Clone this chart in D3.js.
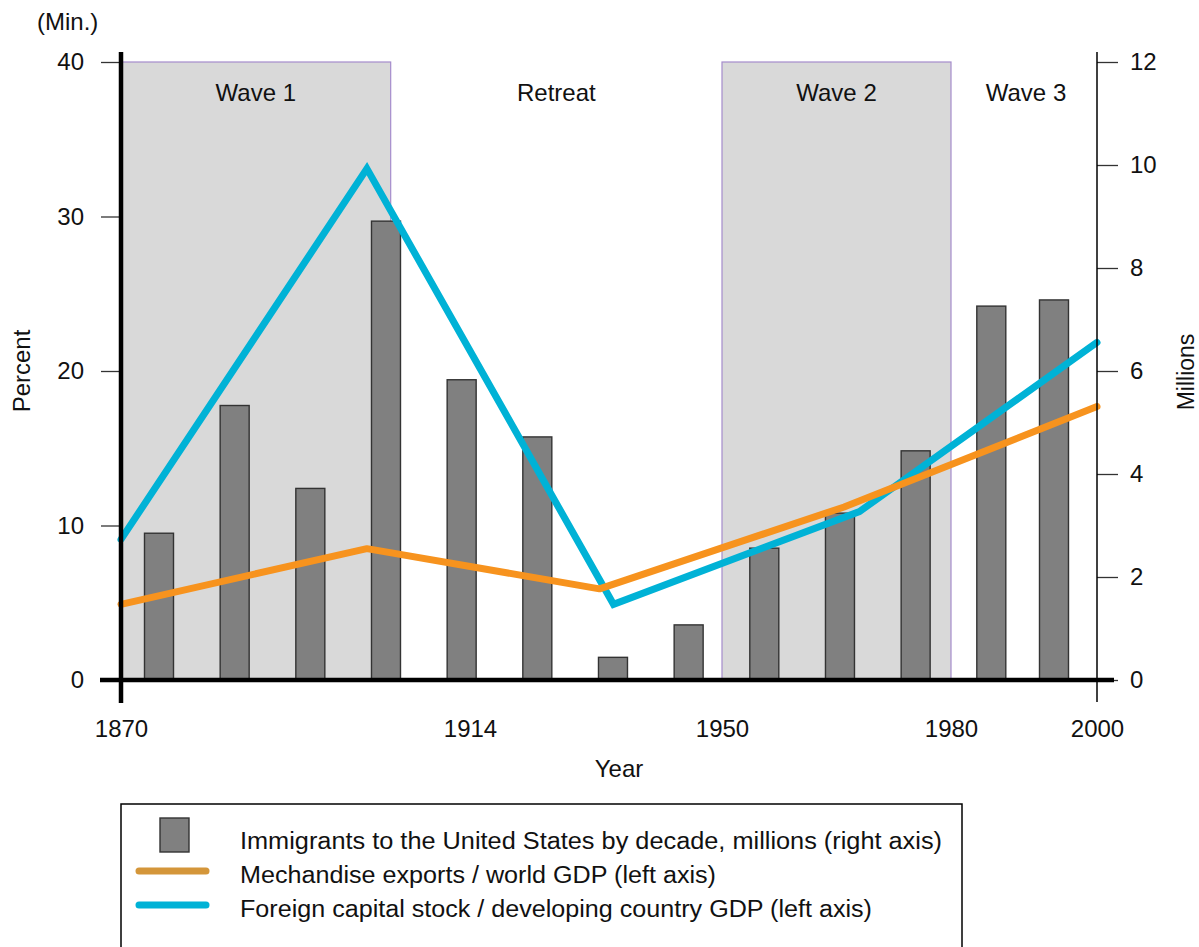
<!DOCTYPE html>
<html>
<head>
<meta charset="utf-8">
<script src="https://cdn.jsdelivr.net/npm/d3@7"></script>
<style>
  body { margin: 0; background: #fff; }
  svg { display: block; font-family: "Liberation Sans", Arial, sans-serif; }
</style>
</head>
<body>
<svg id="chart" width="1199" height="947"></svg>
<script>
// ---- data ----
// immigrants to the US by decade (millions, right axis), 1870s .. 1990s
var decades = ["1870s","1880s","1890s","1900s","1910s","1920s","1930s","1940s","1950s","1960s","1970s","1980s","1990s"];
var immigrants = [2.85, 5.33, 3.72, 8.91, 5.83, 4.72, 0.44, 1.07, 2.56, 3.24, 4.45, 7.26, 7.38];

// left axis series (percent)
var exportYears = [1870, 1901, 1932.5, 1966, 2000];
var exportsGdp = [4.9, 8.5, 5.9, 11.2, 17.7];
var capitalYears = [1870, 1901, 1934.5, 1968, 2000];
var capitalGdp = [9.1, 33.1, 4.9, 10.9, 21.85];

var yearTicks = [1870, 1914, 1950, 1980, 2000];
var leftTicks = [0, 10, 20, 30, 40];
var rightTicks = [0, 2, 4, 6, 8, 10, 12];

var periods = [
  {name: "Wave 1", from: 1870, to: 1904, shaded: true},
  {name: "Retreat", from: 1904, to: 1950, shaded: false},
  {name: "Wave 2", from: 1950, to: 1980, shaded: true},
  {name: "Wave 3", from: 1980, to: 2000, shaded: false}
];

var legendItems = [
  {type: "bar", label: "Immigrants to the United States by decade, millions (right axis)", len: 702},
  {type: "line", color: "#d4963a", label: "Mechandise exports / world GDP (left axis)", len: 476},
  {type: "line", color: "#00b2d6", label: "Foreign capital stock / developing country GDP (left axis)", len: 632}
];

var FONT = "Liberation Sans, Arial, sans-serif";

// ---- scales ----
var svg = d3.select("#chart");
var x = d3.scaleLinear().domain(yearTicks).range([121, 470, 722, 951, 1097]);
var yL = d3.scaleLinear().domain([0, 40]).range([680, 62]);
var yR = d3.scaleLinear().domain([0, 12]).range([680, 62]);
// bars sit on an even decade grid, last one squeezed in
var xBar = d3.scaleLinear().domain([0, 11, 12]).range([159, 991.3, 1054]);
var barW = 29;

// ---- shaded periods ----
svg.selectAll("rect.period")
  .data(periods.filter(function(d) { return d.shaded; }))
  .enter().append("rect")
  .attr("class", "period")
  .attr("x", function(d) { return x(d.from); })
  .attr("y", yL(40))
  .attr("width", function(d) { return x(d.to) - x(d.from); })
  .attr("height", yL(0) - yL(40))
  .attr("fill", "#d9d9d9")
  .attr("stroke", "#a58ccc")
  .attr("stroke-width", 1.2);

svg.selectAll("text.period")
  .data(periods)
  .enter().append("text")
  .attr("x", function(d) { return d.name == "Wave 3" ? 1026 : (x(d.from) + x(d.to)) / 2; })
  .attr("y", 101)
  .attr("text-anchor", "middle")
  .attr("font-size", 24)
  .attr("fill", "#111")
  .text(function(d) { return d.name; });

// ---- bars ----
svg.selectAll("rect.bar")
  .data(immigrants)
  .enter().append("rect")
  .attr("class", "bar")
  .attr("x", function(d, i) { return xBar(i) - barW / 2; })
  .attr("y", function(d) { return yR(d); })
  .attr("width", barW)
  .attr("height", function(d) { return yR(0) - yR(d); })
  .attr("fill", "#808080")
  .attr("stroke", "#333")
  .attr("stroke-width", 1.4);

// ---- lines ----
var line = d3.line()
  .x(function(d) { return x(d[0]); })
  .y(function(d) { return yL(d[1]); });

svg.append("path")
  .datum(d3.zip(capitalYears, capitalGdp))
  .attr("d", line)
  .attr("fill", "none")
  .attr("stroke", "#00b2d6")
  .attr("stroke-width", 7)
  .attr("stroke-linejoin", "miter")
  .attr("stroke-linecap", "round");

svg.append("path")
  .datum(d3.zip(exportYears, exportsGdp))
  .attr("d", line)
  .attr("fill", "none")
  .attr("stroke", "#f7931e")
  .attr("stroke-width", 7)
  .attr("stroke-linejoin", "round")
  .attr("stroke-linecap", "round");

// ---- axes ----
var leftAxis = svg.append("g")
  .attr("transform", "translate(121,0)")
  .call(d3.axisLeft(yL).tickValues(leftTicks).tickSize(20).tickPadding(17));
leftAxis.select(".domain").remove();
leftAxis.selectAll("line").attr("stroke", "#333").attr("stroke-width", 1.3);
leftAxis.selectAll("text").attr("font-size", 24).attr("fill", "#111").attr("font-family", FONT);

var rightAxis = svg.append("g")
  .attr("transform", "translate(1097,0)")
  .call(d3.axisRight(yR).tickValues(rightTicks).tickSize(21).tickPadding(12));
rightAxis.select(".domain").remove();
rightAxis.selectAll("line").attr("stroke", "#333").attr("stroke-width", 1.3);
rightAxis.selectAll("text").attr("font-size", 24).attr("fill", "#111").attr("font-family", FONT);

// thin right axis line
svg.append("line")
  .attr("x1", 1097).attr("x2", 1097)
  .attr("y1", 52).attr("y2", 702)
  .attr("stroke", "#000").attr("stroke-width", 1.5);

// thick left and bottom axis lines
svg.append("line")
  .attr("x1", 121).attr("x2", 121)
  .attr("y1", 52).attr("y2", 703)
  .attr("stroke", "#000").attr("stroke-width", 4.5);
svg.append("line")
  .attr("x1", 100).attr("x2", 1114)
  .attr("y1", 680).attr("y2", 680)
  .attr("stroke", "#000").attr("stroke-width", 4.5);

var bottomAxis = svg.append("g")
  .attr("transform", "translate(0,680)")
  .call(d3.axisBottom(x).tickValues(yearTicks).tickFormat(d3.format("d")).tickSize(0).tickPadding(40));
bottomAxis.select(".domain").remove();
bottomAxis.selectAll("text").attr("font-size", 24).attr("fill", "#111").attr("font-family", FONT);

// ---- axis titles ----
svg.append("text").attr("x", 37).attr("y", 30).attr("font-size", 24).attr("fill", "#111").text("(Min.)");
svg.append("text").attr("x", 619).attr("y", 777).attr("text-anchor", "middle")
  .attr("font-size", 24).attr("fill", "#111").text("Year");
svg.append("text")
  .attr("transform", "translate(30,371) rotate(-90)")
  .attr("text-anchor", "middle").attr("font-size", 24).attr("fill", "#111").text("Percent");
svg.append("text")
  .attr("transform", "translate(1194,372) rotate(-90)")
  .attr("text-anchor", "middle").attr("font-size", 23).attr("fill", "#111").text("Millions");

// ---- legend ----
svg.append("rect")
  .attr("x", 121).attr("y", 804).attr("width", 841).attr("height", 170)
  .attr("fill", "#fff").attr("stroke", "#000").attr("stroke-width", 1.5);

var legend = svg.selectAll("g.legend")
  .data(legendItems)
  .enter().append("g")
  .attr("transform", function(d, i) { return "translate(0," + (842 + i * 34) + ")"; });

legend.each(function(d) {
  var g = d3.select(this);
  if (d.type == "bar") {
    g.append("rect").attr("x", 160).attr("y", -24).attr("width", 29).attr("height", 34)
      .attr("fill", "#808080").attr("stroke", "#333").attr("stroke-width", 1.4);
  } else {
    g.append("line").attr("x1", 139).attr("x2", 206).attr("y1", -5).attr("y2", -5)
      .attr("stroke", d.color).attr("stroke-width", 7).attr("stroke-linecap", "round");
  }
  g.append("text").attr("x", 240).attr("y", 7).attr("font-size", 23).attr("fill", "#111")
    .attr("textLength", d.len).attr("lengthAdjust", "spacingAndGlyphs").text(d.label);
});
</script>
</body>
</html>
